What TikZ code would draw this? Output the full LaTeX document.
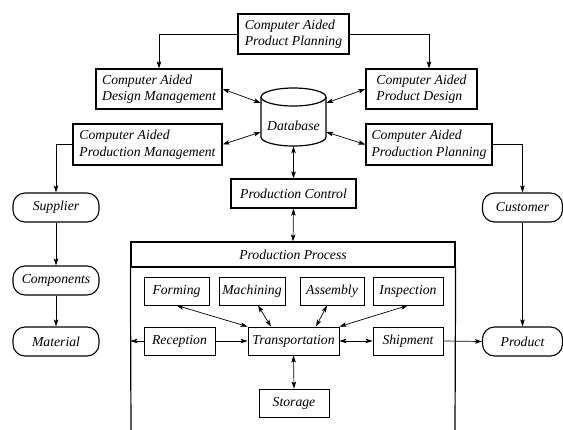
\documentclass[tikz,border=0pt]{standalone}
\usepackage{fontspec}
\setmainfont{Liberation Serif}
\usetikzlibrary{arrows.meta}
\tikzset{
  every node/.style={font=\fontsize{13.7}{16.5}\selectfont\itshape, inner sep=0pt},
  bigbox/.style={draw, line width=1.2pt, align=left},
  smallbox/.style={draw, line width=0.8pt, minimum height=28pt},
  pill/.style={draw, line width=1.1pt, rounded corners=12pt, minimum width=86pt, minimum height=29pt},
  conn/.style={line width=0.7pt},
  >={Stealth[length=7pt,width=4.5pt,inset=1.5pt]}
}
\begin{document}
\begin{tikzpicture}[x=1pt,y=-1pt]
\useasboundingbox (0,0) rectangle (563,429);
% upper boxes
\node[bigbox, minimum width=111pt, minimum height=40pt] (capp) at (293.5,34) {Computer Aided\\Product Planning};
\node[bigbox, minimum width=126pt, minimum height=40pt] (cadm) at (159,89) {Computer Aided\\Design Management};
\node[bigbox, minimum width=111pt, minimum height=40pt] (capd) at (421.5,89) {Computer Aided\\Product Design};
\node[bigbox, minimum width=149pt, minimum height=41pt] (capm) at (147.5,144.5) {Computer Aided\\Production Management};
\node[bigbox, minimum width=126pt, minimum height=41pt] (cappl) at (429,144.5) {Computer Aided\\Production Planning};
% database
\node[minimum width=65pt, minimum height=58pt] (db) at (293.5,117) {};
\draw[line width=1.2pt] (293.5,97) ellipse [x radius=32.5pt, y radius=9pt];
\draw[line width=1.2pt] (261,97) -- (261,137) arc[start angle=180, end angle=360, x radius=32.5pt, y radius=9pt] -- (326,97);
\node (dblabel) at (293.5,126) {Database};
\node[bigbox, minimum width=125pt, minimum height=29pt] (pc) at (293.5,193.5) {Production Control};
% production process
\node[draw, line width=1.2pt, minimum width=324pt, minimum height=25pt] (pp) at (293,254.5) {Production Process};
\draw[line width=1.2pt] (pp.south west) -- (131,432);
\draw[line width=1.2pt] (pp.south east) -- (455,432);
% side columns
\node[pill] (supplier) at (56,207.5) {Supplier};
\node[pill] (components) at (56,280.5) {Components};
\node[pill] (material) at (56,341.5) {Material};
\node[pill, minimum width=80pt] (customer) at (522.5,207.5) {Customer};
\node[pill, minimum width=80pt] (product) at (522.5,341.5) {Product};
% inner boxes
\node[smallbox, minimum width=65pt] (forming) at (176.5,291) {Forming};
\node[smallbox, minimum width=66pt] (machining) at (252,291) {Machining};
\node[smallbox, minimum width=64pt] (assembly) at (332,291) {Assembly};
\node[smallbox, minimum width=70pt] (inspection) at (408,291) {Inspection};
\node[smallbox, minimum width=71pt] (reception) at (179.5,341) {Reception};
\node[smallbox, minimum width=91pt] (transp) at (293.5,341) {Transportation};
\node[smallbox, minimum width=70pt] (shipment) at (408,341) {Shipment};
\node[smallbox, minimum width=70pt] (storage) at (294,403) {Storage};
% connectors top
\draw[conn,->] (capp.west) -| (cadm.north);
\draw[conn,->] (capp.east) -| ([xshift=7.5pt]capd.north);
\draw[conn,<->] (cadm.east) -- ([yshift=14pt]db.west);
\draw[conn,<->] (capd.west) -- ([yshift=14pt]db.east);
\draw[conn,<->] (capm.east) -- ([yshift=-15pt]db.west);
\draw[conn,<->] (cappl.west) -- ([yshift=-15pt]db.east);
\draw[conn,<->] (db.south) -- (pc.north);
\draw[conn,<->] (pc.south) -- (pp.north);
% side connectors
\draw[conn,->] (capm.west) -| (supplier.north);
\draw[conn,->] (supplier.south) -- (components.north);
\draw[conn,->] (components.south) -- (material.north);
\draw[conn,->] (cappl.east) -| (customer.north);
\draw[conn,->] (customer.south) -- (product.north);
% inner connectors
\draw[conn,<->] (forming.south) -- (transp.north west);
\draw[conn,<->] ([xshift=6pt]machining.south) -- ([xshift=-22.5pt]transp.north);
\draw[conn,<->] ([xshift=-5pt]assembly.south) -- ([xshift=22.5pt]transp.north);
\draw[conn,<->] (inspection.south) -- (transp.north east);
\draw[conn,->] (reception.east) -- (transp.west);
\draw[conn,<->] (transp.east) -- (shipment.west);
\draw[conn,<->] (transp.south) -- (storage.north);
\draw[conn,->] (shipment.east) -- (product.west);
\draw[conn,->] (reception.west) -- (reception.west -| pp.west);
\end{tikzpicture}
\end{document}
